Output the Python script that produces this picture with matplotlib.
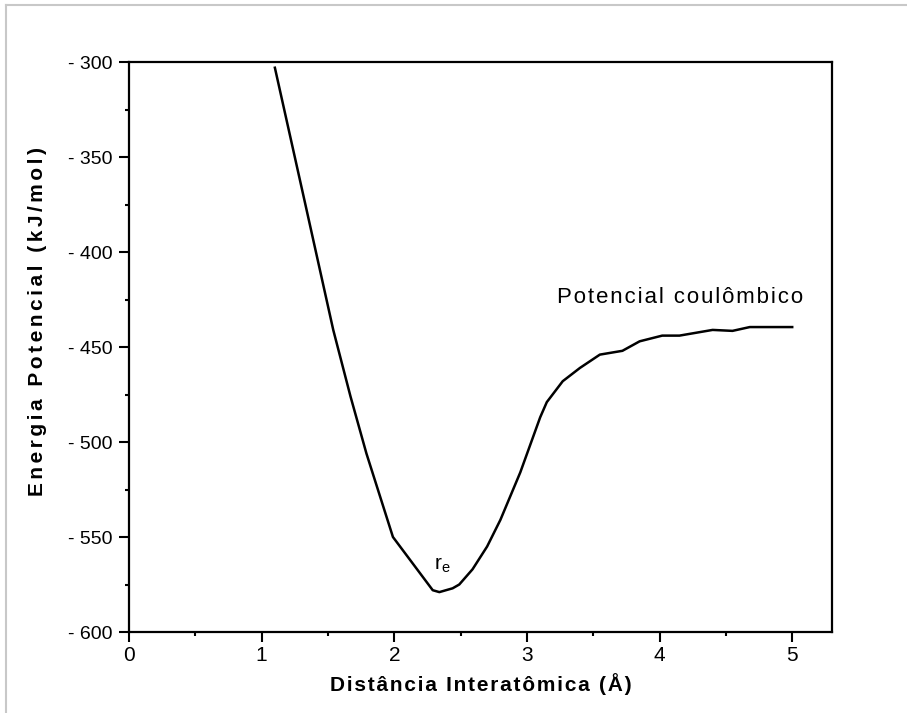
import matplotlib
matplotlib.use("Agg")
import matplotlib.pyplot as plt
from matplotlib.ticker import MultipleLocator, FuncFormatter
from matplotlib.lines import Line2D

# distance (angstrom) and potential energy (kJ/mol)
distancia = [1.10, 1.33, 1.54, 1.67, 1.79, 1.99, 2.29, 2.34, 2.44, 2.49,
             2.59, 2.70, 2.80, 2.95, 3.10, 3.15, 3.27, 3.40, 3.55, 3.72,
             3.85, 4.02, 4.15, 4.40, 4.55, 4.68, 5.00]
energia = [-303, -375, -441, -476, -506, -550, -578, -579, -577, -575,
           -567, -555, -541, -516, -487, -479, -468, -461, -454, -452,
           -447, -444, -444, -441, -441.5, -439.5, -439.5]

xticks = [0, 1, 2, 3, 4, 5]
yticks = [-600, -550, -500, -450, -400, -350, -300]

plt.rcParams["font.family"] = ["Liberation Sans", "DejaVu Sans"]
plt.rcParams["axes.unicode_minus"] = False


def spaced(s, n=1):
    # the original uses wide letter spacing
    return ("\u200a" * n).join(s)


fig = plt.figure(figsize=(9.07, 7.13), dpi=100)
ax = fig.add_axes([0.1422, 0.1136, 0.9173 - 0.1422, 0.9130 - 0.1136])

ax.plot(distancia, energia, color="black", lw=1.8, solid_joinstyle="round")

ax.set_xlim(0, 5.3)
ax.set_ylim(-600, -300)
ax.set_xticks(xticks)
ax.set_yticks(yticks)
ax.xaxis.set_minor_locator(MultipleLocator(0.5))
ax.yaxis.set_minor_locator(MultipleLocator(25))
ax.yaxis.set_major_formatter(FuncFormatter(lambda v, p: "- %d" % abs(v)))

for s in ax.spines.values():
    s.set_linewidth(1.6)
ax.tick_params(which="major", direction="out", length=7, width=1.5,
               top=False, right=False)
ax.tick_params(which="minor", direction="out", length=3, width=1.5,
               top=False, right=False)
ax.tick_params(axis="x", which="major", pad=3, labelsize=15)
ax.tick_params(axis="y", which="major", pad=5, labelsize=14)

ax.set_xlabel(spaced("Distância Interatômica (Å)"), fontsize=15,
              fontweight="bold", labelpad=6)
ax.set_ylabel(spaced("Energia Potencial (kJ/mol)", 2), fontsize=15,
              fontweight="bold")
ax.yaxis.set_label_coords(-0.117, 0.544)

ax.text(3.23, -424, spaced("Potencial coulômbico"), fontsize=16,
        va="center", ha="left")
ax.text(2.30, -565, r"$\mathregular{r_e}$", fontsize=15, va="center",
        ha="left")

# page frame lines (top and left)
fig.add_artist(Line2D([6 / 907, 1], [1 - 5 / 713, 1 - 5 / 713],
                      transform=fig.transFigure, color="#c8c8c8", lw=1.5))
fig.add_artist(Line2D([6 / 907, 6 / 907], [0, 1 - 5 / 713],
                      transform=fig.transFigure, color="#c8c8c8", lw=1.5))

plt.savefig("out.png", dpi=100)
